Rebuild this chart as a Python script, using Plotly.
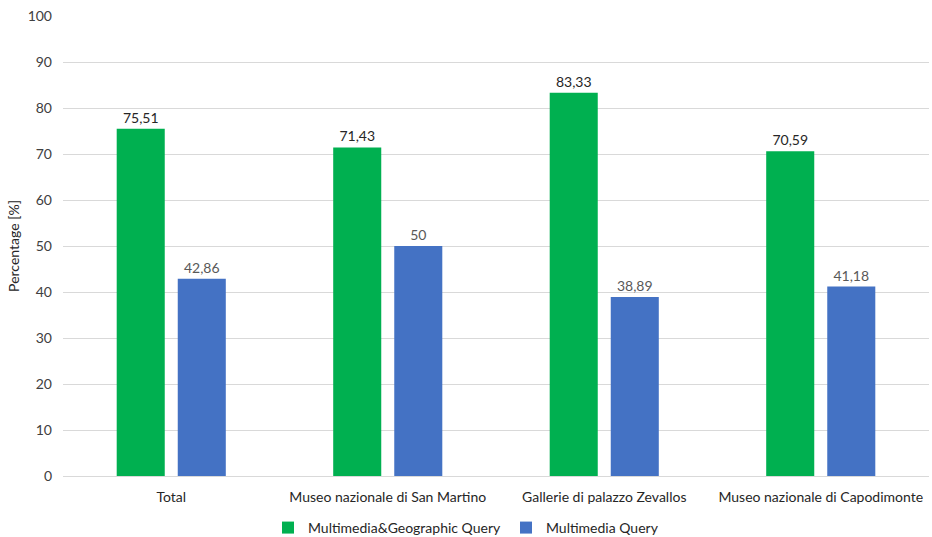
import plotly.graph_objects as go

categories = ["Total", "Museo nazionale di San Martino", "Gallerie di palazzo Zevallos", "Museo nazionale di Capodimonte"]
geo_values = [75.51, 71.43, 83.33, 70.59]
mm_values = [42.86, 50, 38.89, 41.18]
series_names = ["Multimedia&Geographic Query", "Multimedia Query"]
y_ticks = [0, 10, 20, 30, 40, 50, 60, 70, 80, 90, 100]

FONT = "Lato, 'Open Sans', sans-serif"
FS = 14

def fmt(v):
    return f"{v:g}".replace(".", ",")

fig = go.Figure()
fig.add_trace(go.Bar(
    x=categories, y=geo_values, name=series_names[0],
    marker=dict(color="#00B050", line=dict(width=0)),
    text=[fmt(v) for v in geo_values], textposition="outside",
    textfont=dict(color="#262626", size=FS, family=FONT), cliponaxis=False,
))
fig.add_trace(go.Bar(
    x=categories, y=mm_values, name=series_names[1],
    marker=dict(color="#4472C4", line=dict(width=0)),
    text=[fmt(v) for v in mm_values], textposition="outside",
    textfont=dict(color="#595959", size=FS, family=FONT), cliponaxis=False,
))

fig.update_layout(
    width=932, height=537,
    margin=dict(l=63, r=3, t=16, b=61),
    paper_bgcolor="white", plot_bgcolor="white",
    font=dict(family=FONT, size=FS, color="#262626"),
    barmode="group", bargap=0.436, bargroupgap=0.213,
    showlegend=True,
    legend=dict(orientation="h", xref="container", x=0.5, xanchor="center",
                yref="container", y=0.0168, yanchor="middle",
                font=dict(size=FS, color="#262626"), itemwidth=30, traceorder="normal"),
    yaxis=dict(range=[0, 100], tickvals=y_ticks, showgrid=True, gridcolor="#D9D9D9",
               gridwidth=1, zeroline=False, showline=False, ticks="",
               tickfont=dict(color="#404040", size=FS), ticklabelstandoff=10,
               title=dict(text="Percentage [%]", font=dict(size=FS, color="#262626"), standoff=4)),
    xaxis=dict(showline=True, linecolor="#D9D9D9", linewidth=1, ticks="",
               tickfont=dict(color="#262626", size=FS), ticklabelstandoff=8),
)

fig.write_html("out.html")
